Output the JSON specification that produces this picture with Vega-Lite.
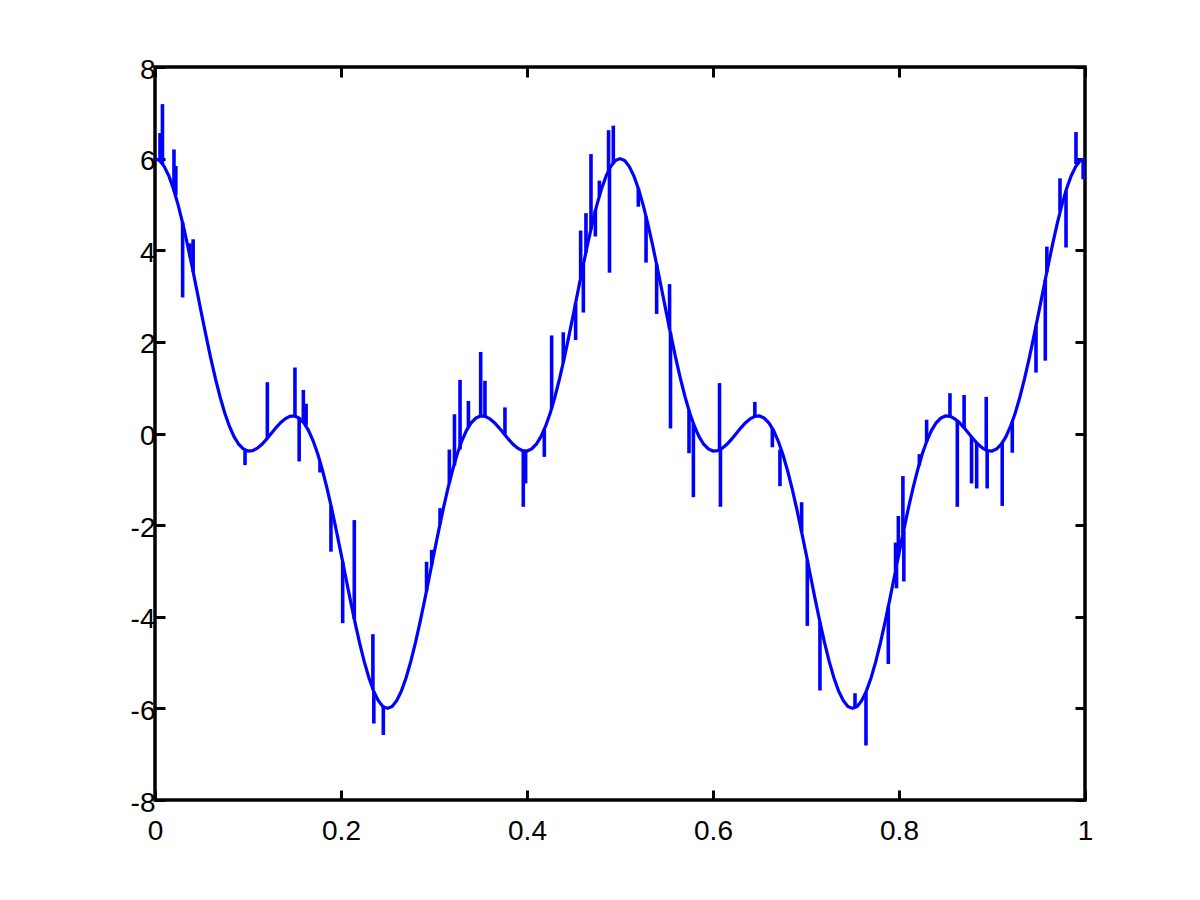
{
  "$schema": "https://vega.github.io/schema/vega-lite/v6.json",
  "width": 930,
  "height": 733,
  "autosize": "none",
  "padding": {"left": 155, "top": 67, "right": 115, "bottom": 100},
  "background": "white",
  "config": {
    "view": {"stroke": "black", "strokeWidth": 3.5},
    "axis": {
      "grid": false,
      "domain": false,
      "labelFont": "Liberation Sans",
      "labelFontSize": 28,
      "labelColor": "black",
      "labelFlush": false,
      "labelOverlap": false,
      "tickColor": "black",
      "tickWidth": 3,
      "tickSize": -10,
      "title": null
    }
  },
  "datasets": {
    "curve": [
      {"x":0,"y":6},{"x":0.005,"y":5.957},{"x":0.01,"y":5.828},{"x":0.015,"y":5.618},{"x":0.02,"y":5.332},{"x":0.025,"y":4.98},{"x":0.03,"y":4.571},{"x":0.035,"y":4.117},{"x":0.04,"y":3.631},{"x":0.045,"y":3.127},
      {"x":0.05,"y":2.618},{"x":0.055,"y":2.119},{"x":0.06,"y":1.641},{"x":0.065,"y":1.197},{"x":0.07,"y":0.797},{"x":0.075,"y":0.449},{"x":0.08,"y":0.159},{"x":0.085,"y":-0.069},{"x":0.09,"y":-0.234},{"x":0.095,"y":-0.337},
      {"x":0.1,"y":-0.382},{"x":0.105,"y":-0.374},{"x":0.11,"y":-0.322},{"x":0.115,"y":-0.235},{"x":0.12,"y":-0.124},{"x":0.125,"y":0},{"x":0.13,"y":0.124},{"x":0.135,"y":0.235},{"x":0.14,"y":0.322},{"x":0.145,"y":0.374},
      {"x":0.15,"y":0.382},{"x":0.155,"y":0.337},{"x":0.16,"y":0.234},{"x":0.165,"y":0.069},{"x":0.17,"y":-0.159},{"x":0.175,"y":-0.449},{"x":0.18,"y":-0.797},{"x":0.185,"y":-1.197},{"x":0.19,"y":-1.641},{"x":0.195,"y":-2.119},
      {"x":0.2,"y":-2.618},{"x":0.205,"y":-3.127},{"x":0.21,"y":-3.631},{"x":0.215,"y":-4.117},{"x":0.22,"y":-4.571},{"x":0.225,"y":-4.98},{"x":0.23,"y":-5.332},{"x":0.235,"y":-5.618},{"x":0.24,"y":-5.828},{"x":0.245,"y":-5.957},
      {"x":0.25,"y":-6},{"x":0.255,"y":-5.957},{"x":0.26,"y":-5.828},{"x":0.265,"y":-5.618},{"x":0.27,"y":-5.332},{"x":0.275,"y":-4.98},{"x":0.28,"y":-4.571},{"x":0.285,"y":-4.117},{"x":0.29,"y":-3.631},{"x":0.295,"y":-3.127},
      {"x":0.3,"y":-2.618},{"x":0.305,"y":-2.119},{"x":0.31,"y":-1.641},{"x":0.315,"y":-1.197},{"x":0.32,"y":-0.797},{"x":0.325,"y":-0.449},{"x":0.33,"y":-0.159},{"x":0.335,"y":0.069},{"x":0.34,"y":0.234},{"x":0.345,"y":0.337},
      {"x":0.35,"y":0.382},{"x":0.355,"y":0.374},{"x":0.36,"y":0.322},{"x":0.365,"y":0.235},{"x":0.37,"y":0.124},{"x":0.375,"y":0},{"x":0.38,"y":-0.124},{"x":0.385,"y":-0.235},{"x":0.39,"y":-0.322},{"x":0.395,"y":-0.374},
      {"x":0.4,"y":-0.382},{"x":0.405,"y":-0.337},{"x":0.41,"y":-0.234},{"x":0.415,"y":-0.069},{"x":0.42,"y":0.159},{"x":0.425,"y":0.449},{"x":0.43,"y":0.797},{"x":0.435,"y":1.197},{"x":0.44,"y":1.641},{"x":0.445,"y":2.119},
      {"x":0.45,"y":2.618},{"x":0.455,"y":3.127},{"x":0.46,"y":3.631},{"x":0.465,"y":4.117},{"x":0.47,"y":4.571},{"x":0.475,"y":4.98},{"x":0.48,"y":5.332},{"x":0.485,"y":5.618},{"x":0.49,"y":5.828},{"x":0.495,"y":5.957},
      {"x":0.5,"y":6},{"x":0.505,"y":5.957},{"x":0.51,"y":5.828},{"x":0.515,"y":5.618},{"x":0.52,"y":5.332},{"x":0.525,"y":4.98},{"x":0.53,"y":4.571},{"x":0.535,"y":4.117},{"x":0.54,"y":3.631},{"x":0.545,"y":3.127},
      {"x":0.55,"y":2.618},{"x":0.555,"y":2.119},{"x":0.56,"y":1.641},{"x":0.565,"y":1.197},{"x":0.57,"y":0.797},{"x":0.575,"y":0.449},{"x":0.58,"y":0.159},{"x":0.585,"y":-0.069},{"x":0.59,"y":-0.234},{"x":0.595,"y":-0.337},
      {"x":0.6,"y":-0.382},{"x":0.605,"y":-0.374},{"x":0.61,"y":-0.322},{"x":0.615,"y":-0.235},{"x":0.62,"y":-0.124},{"x":0.625,"y":0},{"x":0.63,"y":0.124},{"x":0.635,"y":0.235},{"x":0.64,"y":0.322},{"x":0.645,"y":0.374},
      {"x":0.65,"y":0.382},{"x":0.655,"y":0.337},{"x":0.66,"y":0.234},{"x":0.665,"y":0.069},{"x":0.67,"y":-0.159},{"x":0.675,"y":-0.449},{"x":0.68,"y":-0.797},{"x":0.685,"y":-1.197},{"x":0.69,"y":-1.641},{"x":0.695,"y":-2.119},
      {"x":0.7,"y":-2.618},{"x":0.705,"y":-3.127},{"x":0.71,"y":-3.631},{"x":0.715,"y":-4.117},{"x":0.72,"y":-4.571},{"x":0.725,"y":-4.98},{"x":0.73,"y":-5.332},{"x":0.735,"y":-5.618},{"x":0.74,"y":-5.828},{"x":0.745,"y":-5.957},
      {"x":0.75,"y":-6},{"x":0.755,"y":-5.957},{"x":0.76,"y":-5.828},{"x":0.765,"y":-5.618},{"x":0.77,"y":-5.332},{"x":0.775,"y":-4.98},{"x":0.78,"y":-4.571},{"x":0.785,"y":-4.117},{"x":0.79,"y":-3.631},{"x":0.795,"y":-3.127},
      {"x":0.8,"y":-2.618},{"x":0.805,"y":-2.119},{"x":0.81,"y":-1.641},{"x":0.815,"y":-1.197},{"x":0.82,"y":-0.797},{"x":0.825,"y":-0.449},{"x":0.83,"y":-0.159},{"x":0.835,"y":0.069},{"x":0.84,"y":0.234},{"x":0.845,"y":0.337},
      {"x":0.85,"y":0.382},{"x":0.855,"y":0.374},{"x":0.86,"y":0.322},{"x":0.865,"y":0.235},{"x":0.87,"y":0.124},{"x":0.875,"y":0},{"x":0.88,"y":-0.124},{"x":0.885,"y":-0.235},{"x":0.89,"y":-0.322},{"x":0.895,"y":-0.374},
      {"x":0.9,"y":-0.382},{"x":0.905,"y":-0.337},{"x":0.91,"y":-0.234},{"x":0.915,"y":-0.069},{"x":0.92,"y":0.159},{"x":0.925,"y":0.449},{"x":0.93,"y":0.797},{"x":0.935,"y":1.197},{"x":0.94,"y":1.641},{"x":0.945,"y":2.119},
      {"x":0.95,"y":2.618},{"x":0.955,"y":3.127},{"x":0.96,"y":3.631},{"x":0.965,"y":4.117},{"x":0.97,"y":4.571},{"x":0.975,"y":4.98},{"x":0.98,"y":5.332},{"x":0.985,"y":5.618},{"x":0.99,"y":5.828},{"x":0.995,"y":5.957},
      {"x":1,"y":6}
    ],
    "spikes": [
      {"x":0.0054,"y0":5.93,"y1":6.56},{"x":0.008,"y0":5.88,"y1":7.19},{"x":0.0204,"y0":5.3,"y1":6.2},{"x":0.0224,"y0":5.2,"y1":5.84},
      {"x":0.0297,"y0":4.61,"y1":2.97},{"x":0.0376,"y0":3.86,"y1":4.15},{"x":0.041,"y0":3.53,"y1":4.24},{"x":0.0968,"y0":-0.38,"y1":-0.69},
      {"x":0.1208,"y0":-0.1,"y1":1.12},{"x":0.1505,"y0":0.38,"y1":1.44},{"x":0.155,"y0":0.34,"y1":-0.61},{"x":0.1595,"y0":0.245,"y1":0.95},
      {"x":0.1625,"y0":0.18,"y1":0.65},{"x":0.1774,"y0":-0.62,"y1":-0.85},{"x":0.1892,"y0":-1.58,"y1":-2.58},{"x":0.2018,"y0":-2.8,"y1":-4.14},
      {"x":0.2143,"y0":-4.05,"y1":-1.89},{"x":0.2343,"y0":-5.58,"y1":-4.38},{"x":0.2353,"y0":-5.64,"y1":-6.33},{"x":0.2455,"y0":-5.96,"y1":-6.58},
      {"x":0.292,"y0":-3.44,"y1":-2.8},{"x":0.2975,"y0":-2.87,"y1":-2.54},{"x":0.3065,"y0":-1.98,"y1":-1.63},{"x":0.3165,"y0":-1.08,"y1":-0.35},
      {"x":0.322,"y0":-0.7,"y1":0.42},{"x":0.328,"y0":-0.35,"y1":1.17},{"x":0.337,"y0":0.13,"y1":0.71},{"x":0.3502,"y0":0.38,"y1":1.78},
      {"x":0.3548,"y0":0.374,"y1":1.15},{"x":0.3763,"y0":-0.03,"y1":0.57},{"x":0.396,"y0":-0.376,"y1":-1.6},{"x":0.3985,"y0":-0.38,"y1":-1.09},
      {"x":0.4186,"y0":0.09,"y1":-0.51},{"x":0.4265,"y0":0.55,"y1":2.14},{"x":0.439,"y0":1.55,"y1":2.21},{"x":0.4523,"y0":2.85,"y1":2.04},
      {"x":0.4577,"y0":3.4,"y1":4.43},{"x":0.4606,"y0":3.69,"y1":2.64},{"x":0.4634,"y0":3.95,"y1":4.81},{"x":0.4688,"y0":4.46,"y1":6.1},
      {"x":0.4735,"y0":4.88,"y1":4.3},{"x":0.4778,"y0":5.18,"y1":5.52},{"x":0.4877,"y0":5.73,"y1":6.62},{"x":0.4887,"y0":5.77,"y1":3.51},
      {"x":0.4928,"y0":5.88,"y1":6.72},{"x":0.5197,"y0":5.35,"y1":4.95},{"x":0.528,"y0":4.74,"y1":3.73},{"x":0.5394,"y0":3.69,"y1":2.61},
      {"x":0.5533,"y0":2.28,"y1":3.26},{"x":0.5543,"y0":2.2,"y1":0.11},{"x":0.5742,"y0":0.5,"y1":-0.43},{"x":0.5789,"y0":0.22,"y1":-1.39},
      {"x":0.607,"y0":-0.34,"y1":1.1},{"x":0.608,"y0":-0.36,"y1":-1.6},{"x":0.645,"y0":0.374,"y1":0.69},{"x":0.6638,"y0":0.11,"y1":-0.3},
      {"x":0.672,"y0":-0.35,"y1":-1.15},{"x":0.6953,"y0":-2.15,"y1":-1.5},{"x":0.7014,"y0":-2.76,"y1":-4.2},{"x":0.715,"y0":-4.12,"y1":-5.61},
      {"x":0.7527,"y0":-5.99,"y1":-5.67},{"x":0.7645,"y0":-5.64,"y1":-6.81},{"x":0.7885,"y0":-3.78,"y1":-5.03},{"x":0.7963,"y0":-2.99,"y1":-2.38},
      {"x":0.7973,"y0":-2.89,"y1":-3.38},{"x":0.7993,"y0":-2.69,"y1":-1.8},{"x":0.8042,"y0":-2.18,"y1":-0.93},{"x":0.8052,"y0":-2.12,"y1":-3.23},
      {"x":0.8219,"y0":-0.7,"y1":-0.45},{"x":0.8297,"y0":-0.18,"y1":0.3},{"x":0.8548,"y0":0.374,"y1":0.88},{"x":0.8627,"y0":0.28,"y1":-1.6},
      {"x":0.87,"y0":0.124,"y1":0.84},{"x":0.878,"y0":-0.07,"y1":-1.09},{"x":0.8835,"y0":-0.21,"y1":-1.2},{"x":0.8938,"y0":-0.37,"y1":0.8},
      {"x":0.8948,"y0":-0.37,"y1":-1.2},{"x":0.911,"y0":-0.19,"y1":-1.58},{"x":0.9218,"y0":0.26,"y1":-0.42},{"x":0.9473,"y0":2.35,"y1":1.33},
      {"x":0.9573,"y0":3.36,"y1":1.59},{"x":0.959,"y0":3.52,"y1":4.08},{"x":0.9731,"y0":4.85,"y1":5.57},{"x":0.9796,"y0":5.3,"y1":4.06},
      {"x":0.9903,"y0":5.88,"y1":6.58},{"x":0.998,"y0":6.0,"y1":5.55}
    ]
  },
  "layer": [
    {
      "data": {"name": "curve"},
      "mark": {"type": "line", "color": "#0000ff", "strokeWidth": 3.2, "clip": true},
      "encoding": {
        "x": {"field": "x", "type": "quantitative", "scale": {"domain": [0, 1], "nice": false, "zero": false},
              "axis": {"orient": "bottom", "values": [0, 0.2, 0.4, 0.6, 0.8, 1], "labelExpr": "'' + datum.value", "labelPadding": 27}},
        "y": {"field": "y", "type": "quantitative", "scale": {"domain": [-8, 8], "nice": false, "zero": false},
              "axis": {"orient": "left", "values": [-8, -6, -4, -2, 0, 2, 4, 6, 8], "labelExpr": "'' + datum.value", "labelPadding": 10, "labelOffset": 3}}
      }
    },
    {
      "data": {"name": "spikes"},
      "mark": {"type": "rule", "color": "#0000ff", "strokeWidth": 3.6, "clip": true},
      "encoding": {
        "x": {"field": "x", "type": "quantitative",
              "axis": {"orient": "top", "values": [0, 0.2, 0.4, 0.6, 0.8, 1], "labels": false}},
        "y": {"field": "y0", "type": "quantitative",
              "axis": {"orient": "right", "values": [-8, -6, -4, -2, 0, 2, 4, 6, 8], "labels": false}},
        "y2": {"field": "y1"}
      }
    }
  ],
  "resolve": {"axis": {"x": "independent", "y": "independent"}}
}
